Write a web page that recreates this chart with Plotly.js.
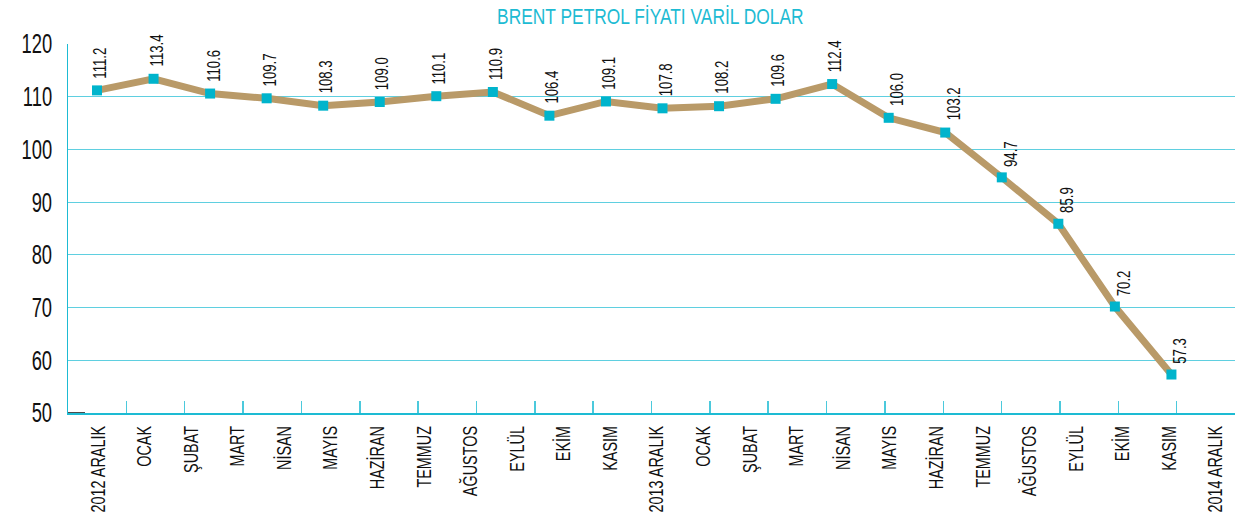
<!DOCTYPE html>
<html>
<head>
<meta charset="utf-8">
<script src="https://cdn.plot.ly/plotly-3.0.1.min.js"></script>
<style>
html,body{margin:0;padding:0;background:#fff;}
#chart{width:1253px;height:520px;}
</style>
</head>
<body>
<div id="chart"></div>
<script>
// Month labels on the axis (25 labels)
const monthLabels = ["2012 ARALIK","OCAK","ŞUBAT","MART","NİSAN","MAYIS","HAZİRAN","TEMMUZ","AĞUSTOS","EYLÜL","EKİM","KASIM",
  "2013 ARALIK","OCAK","ŞUBAT","MART","NİSAN","MAYIS","HAZİRAN","TEMMUZ","AĞUSTOS","EYLÜL","EKİM","KASIM","2014 ARALIK"];
// Brent price series (20 points as drawn)
const prices = [111.2,113.4,110.6,109.7,108.3,109.0,110.1,110.9,106.4,109.1,107.8,108.2,109.6,112.4,106.0,103.2,94.7,85.9,70.2,57.3];
const yTicks = [50,60,70,80,90,100,110,120];

const FONT = "'Liberation Sans',Arial,sans-serif";
const CYAN = '#1dbbd3';
const GRID = '#5fcfe0';

const labelPos = monthLabels.map((_, i) => i);
const pointPos = prices.map((_, i) => i);

const trace = {
  x: pointPos, y: prices, xaxis: 'x2', yaxis: 'y',
  type: 'scatter', mode: 'lines+markers',
  line: {color: '#b99a68', width: 7},
  marker: {symbol: 'square', size: 10, color: '#00b4cc'},
  hoverinfo: 'skip', cliponaxis: false
};

const annotations = prices.map((v, i) => ({
  xref: 'x2', yref: 'y', x: i, y: v,
  text: v.toFixed(1), showarrow: false, textangle: -90,
  xanchor: 'center', yanchor: 'bottom', yshift: 4, xshift: i >= 14 ? 9 : 3,
  font: {family: FONT, size: 18, color: '#111'}
}));

const layout = {
  width: 1253, height: 520,
  margin: {l: 68, r: 18, t: 44, b: 107},
  paper_bgcolor: '#fff', plot_bgcolor: '#fff',
  showlegend: false,
  title: {text: 'BRENT PETROL FİYATI VARİL DOLAR', x: 0.519, xanchor: 'center', y: 0.969, yanchor: 'middle',
          font: {family: FONT, size: 22, color: CYAN}},
  xaxis: {
    type: 'linear', range: [-0.644, 24.41],
    tickvals: labelPos, ticktext: monthLabels, tickangle: -90,
    tickfont: {family: FONT, size: 20, color: '#111'},
    ticks: '', showgrid: false, zeroline: false, showline: false, ticklabelstandoff: 8
  },
  xaxis2: {
    type: 'linear', range: [-0.513, 20.124], overlaying: 'x', anchor: 'y',
    showticklabels: false, ticks: '', showgrid: false, zeroline: false, showline: false
  },
  xaxis3: {
    type: 'linear', range: [0, 20], overlaying: 'x', anchor: 'y', side: 'bottom',
    tickmode: 'linear', tick0: 0, dtick: 1, ticks: 'inside', ticklen: 12, tickwidth: 1.5, tickcolor: '#4cc9dc',
    showticklabels: false, showgrid: false, zeroline: false,
    showline: true, linecolor: CYAN, linewidth: 2
  },
  yaxis: {
    range: [50, 120], tickvals: yTicks,
    tickfont: {family: FONT, size: 27, color: '#111'},
    showgrid: true, gridcolor: GRID, gridwidth: 1.2, zeroline: false,
    showline: true, linecolor: CYAN, linewidth: 1.5, ticks: '', ticklabelstandoff: 9
  },
  shapes: [{type: 'line', xref: 'paper', yref: 'y', x0: 0, x1: 0.0146, y0: 50, y1: 50,
            line: {color: '#111', width: 1.5}}],
  annotations: annotations
};

const fake = {x: [0], y: [null], xaxis: 'x3', yaxis: 'y', type: 'scatter', mode: 'markers', hoverinfo: 'skip'};
const fake1 = {x: [0], y: [null], xaxis: 'x', yaxis: 'y', type: 'scatter', mode: 'markers', hoverinfo: 'skip'};

// condensed look: compress glyphs horizontally along the text baseline
function squeeze(sel, f) {
  document.querySelectorAll(sel).forEach(t => {
    const L = t.getComputedTextLength();
    if (L > 0) {
      t.setAttribute('textLength', (L * f).toFixed(2));
      t.setAttribute('lengthAdjust', 'spacingAndGlyphs');
    }
  });
}

Plotly.newPlot('chart', [fake1, fake, trace], layout, {staticPlot: true}).then(() => {
  squeeze('#chart .xtick text', 0.72);
  squeeze('#chart .ytick text', 0.68);
  squeeze('#chart .annotation-text', 0.73);
  squeeze('#chart .gtitle', 0.79);
});
</script>
</body>
</html>
